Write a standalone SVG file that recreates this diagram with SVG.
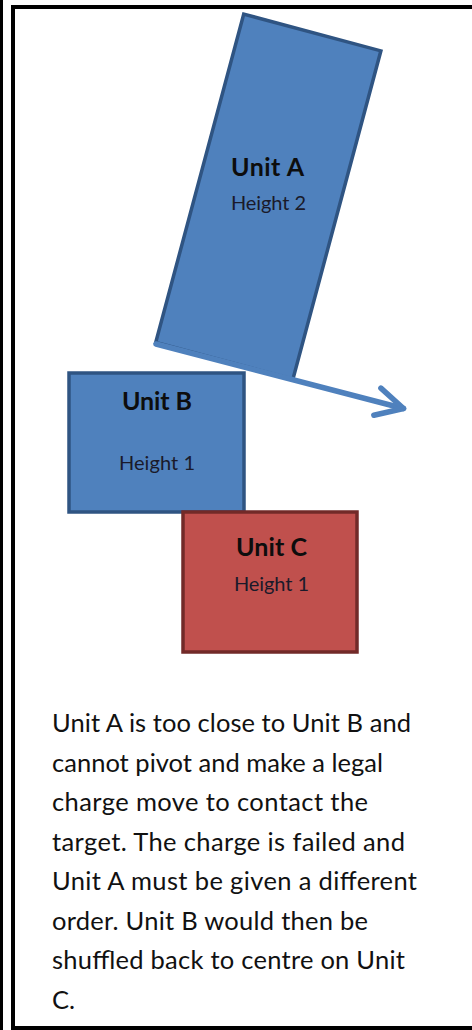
<svg xmlns="http://www.w3.org/2000/svg" width="472" height="1030" viewBox="0 0 472 1030">
<style>
.unit-blue{fill:#4F81BD;stroke:#2F5482;stroke-width:3.5}
.unit-red{fill:#C0504D;stroke:#722A28;stroke-width:3.5}
.title{font-family:"Lato","Liberation Sans",sans-serif;font-weight:bold;font-size:25px;fill:#0d0d0d;text-anchor:middle}
.sub{font-family:"Lato","Liberation Sans",sans-serif;font-size:20px;fill:#1a1a2a;text-anchor:middle}
.body{font-family:"Lato","Liberation Sans",sans-serif;font-size:25.5px;fill:#111}
.frame{fill:none;stroke:#000}
</style>
<defs>
<marker id="openArrow" markerUnits="userSpaceOnUse" markerWidth="60" markerHeight="60" refX="0" refY="0" orient="auto" overflow="visible">
<path d="M -27 -14 L 0 0 L -27 14" fill="none" stroke="#4F81BD" stroke-width="5.5" stroke-linecap="round" stroke-linejoin="round"/>
</marker>
</defs>
<rect width="472" height="1030" fill="#fff"/>
<g id="frame">
<line class="frame" x1="1.5" y1="0" x2="1.5" y2="1030" stroke-width="3"/>
<path class="frame" d="M 472 7 H 13 V 1028 H 472" stroke-width="4"/>
</g>
<g id="unit-a">
<rect class="unit-blue" x="-71" y="-170" width="142" height="340" transform="translate(268.3 196.7) rotate(15)"/>
<text class="title" x="267.5" y="176" textLength="73">Unit A</text>
<text class="sub" x="268.5" y="210" textLength="75">Height 2</text>
</g>
<g id="connectors">
<path d="M 156 344 L 403.5 408.5" fill="none" stroke="#4F81BD" stroke-width="5.5" stroke-linecap="round" marker-end="url(#openArrow)"/>
</g>
<g id="unit-b">
<rect class="unit-blue" x="69" y="373" width="175" height="139"/>
<text class="title" x="157" y="410" textLength="70">Unit B</text>
<text class="sub" x="157" y="470" textLength="76">Height 1</text>
</g>
<g id="unit-c">
<rect class="unit-red" x="183" y="512" width="174" height="140"/>
<text class="title" x="271.5" y="556" textLength="71">Unit C</text>
<text class="sub" x="271.5" y="591" textLength="75">Height 1</text>
</g>
<g id="caption">
<text class="body" x="52" y="732" textLength="359">Unit A is too close to Unit B and</text>
<text class="body" x="52" y="771.5" textLength="331">cannot pivot and make a legal</text>
<text class="body" x="52" y="811" textLength="316">charge move to contact the</text>
<text class="body" x="52" y="850.5" textLength="353">target. The charge is failed and</text>
<text class="body" x="52" y="890" textLength="365">Unit A must be given a different</text>
<text class="body" x="52" y="929.5" textLength="316">order. Unit B would then be</text>
<text class="body" x="52" y="969" textLength="353">shuffled back to centre on Unit</text>
<text class="body" x="52" y="1008.5">C.</text>
</g>
</svg>
